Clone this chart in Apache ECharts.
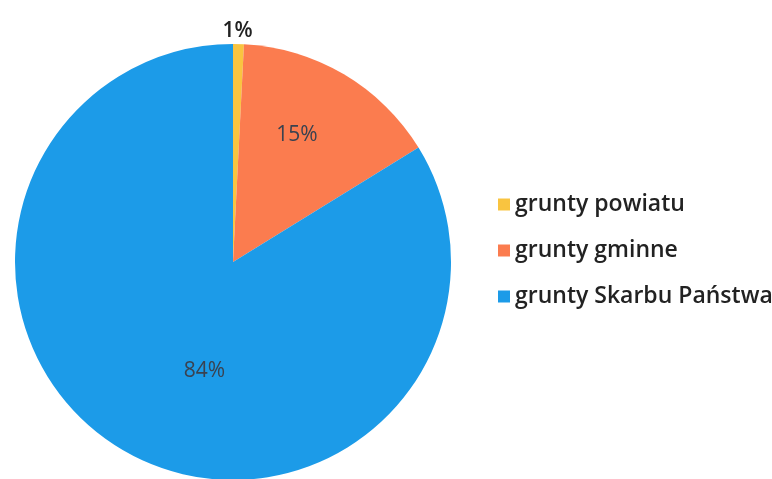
<!DOCTYPE html>
<html><head><meta charset="utf-8">
<script src="https://cdn.jsdelivr.net/npm/echarts@6/dist/echarts.min.js"></script>
<style>html,body{margin:0;padding:0;background:#fff}#c{width:772px;height:479px}</style>
</head><body><div id="c"></div>
<script>
const categories = ['grunty powiatu', 'grunty gminne', 'grunty Skarbu Państwa'];
const values = [0.8, 15.4, 83.8];
const colors = ['#F9C440', '#FB7C4F', '#1C9BE8'];

const chart = echarts.init(document.getElementById('c'));
const data = categories.map((n, i) => ({
  name: n, value: values[i], itemStyle: { color: colors[i] },
  label: i === 0
    ? { position: 'outside', fontSize: 21, color: '#222', fontWeight: 600 }
    : { position: 'inside', fontSize: 21, color: '#3a4250' },
  labelLine: { show: false, length: 4, length2: 0 }
}));
chart.setOption({
  animation: false,
  legend: {
    orient: 'vertical', left: 493, top: 188,
    itemWidth: 12, itemHeight: 12, itemGap: 23,
    icon: 'rect',
    textStyle: { fontFamily: 'Open Sans', fontSize: 23, fontWeight: 600, color: '#222' },
    data: categories
  },
  series: [{
    type: 'pie', center: [233, 262], radius: [0, 218],
    startAngle: 90, clockwise: true,
    label: { show: true, fontFamily: 'Open Sans', formatter: p => Math.round(p.percent) + '%' },
    labelLayout: function (p) {
      if (p.dataIndex === 0) return { align: 'center', dx: -6, dy: -9 };
      if (p.dataIndex === 1) return { dx: 7, dy: -31 };
      return { dx: 26, dy: 11 };
    },
    data: data
  }]
});
</script></body></html>
